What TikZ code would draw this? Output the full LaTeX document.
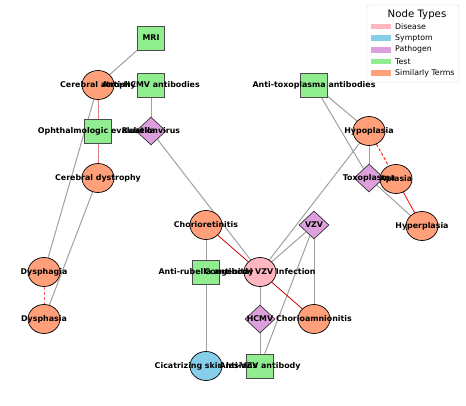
\documentclass[tikz,border=0pt]{standalone}
\usepackage{fontspec}
\setmainfont{DejaVu Sans}
\usepackage{xcolor}
\usepackage{tikz}
\usetikzlibrary{shapes.geometric}
\pgfdeclarelayer{bg}
\pgfsetlayers{bg,main}
\definecolor{disease}{HTML}{FFB6C1}
\definecolor{symptom}{HTML}{87CEEB}
\definecolor{pathogen}{HTML}{DDA0DD}
\definecolor{testc}{HTML}{90EE90}
\definecolor{simterm}{HTML}{FFA07A}
\definecolor{edgegray}{HTML}{A0A0A0}

\begin{document}
\begin{tikzpicture}[x=1pt,y=-1pt,>=latex]
\tikzstyle{ell}=[ellipse,draw=black,line width=0.7pt,minimum width=32pt,minimum height=29pt,inner sep=0pt]
\tikzstyle{sq}=[rectangle,draw=black!70,line width=0.7pt,fill=testc,minimum width=27pt,minimum height=24pt,inner sep=0pt]
\tikzstyle{dia}=[diamond,draw=black!80,line width=0.7pt,fill=pathogen,minimum width=30pt,minimum height=28pt,inner sep=0pt]
\tikzstyle{lbl}=[font=\bfseries\fontsize{7.9}{9}\selectfont,inner sep=0pt]
\tikzstyle{link}=[draw=edgegray,line width=1pt]
\tikzstyle{simlink}=[draw=red,line width=0.8pt,dashed,dash pattern=on 3pt off 2pt]
\useasboundingbox (0,0) rectangle (466,405);

% nodes
\node[sq] (mri) at (151,38) {};
\node[ell,fill=simterm] (catr) at (98,85) {};
\node[sq] (ahcmv) at (151,85) {};
\node[sq] (ophth) at (98,131) {};
\node[dia] (rub) at (151,131) {};
\node[ell,fill=simterm] (cdys) at (98,178) {};
\node[sq] (atoxo) at (314,85) {};
\node[ell,fill=simterm] (hypo) at (369,131) {};
\node[dia] (toxo) at (369,178) {};
\node[ell,fill=simterm] (apl) at (396,179) {};
\node[ell,fill=simterm] (hyper) at (422,226) {};
\node[ell,fill=simterm] (chret) at (206,225) {};
\node[dia] (vzv) at (314,225) {};
\node[ell,fill=disease] (cvzv) at (260,272) {};
\node[sq] (arub) at (206,272) {};
\node[ell,fill=simterm] (dysg) at (44,272) {};
\node[ell,fill=simterm] (dyss) at (44,319) {};
\node[dia] (hcmv) at (260,319) {};
\node[ell,fill=simterm] (cham) at (314,319) {};
\node[ell,fill=symptom] (cicat) at (206,366) {};
\node[sq] (avzv) at (260,366) {};

% labels on top
\node[lbl] (mri-t) at (mri) {MRI};
\node[lbl] (catr-t) at (catr) {Cerebral atrophy};
\node[lbl] (ahcmv-t) at (ahcmv) {Anti-HCMV antibodies};
\node[lbl] (ophth-t) at (ophth) {Ophthalmologic evaluation};
\node[lbl] (rub-t) at (rub) {Rubella virus};
\node[lbl] (cdys-t) at (cdys) {Cerebral dystrophy};
\node[lbl] (atoxo-t) at (atoxo) {Anti-toxoplasma antibodies};
\node[lbl] (hypo-t) at (hypo) {Hypoplasia};
\node[lbl] (toxo-t) at (toxo) {Toxoplasma};
\node[lbl] (apl-t) at (apl) {Aplasia};
\node[lbl] (hyper-t) at (hyper) {Hyperplasia};
\node[lbl] (chret-t) at (chret) {Chorioretinitis};
\node[lbl] (vzv-t) at (vzv) {VZV};
\node[lbl] (arub-t) at (arub) {Anti-rubella antibody};
\node[lbl] (cvzv-t) at (cvzv) {Congenital VZV Infection};
\node[lbl] (dysg-t) at (dysg) {Dysphagia};
\node[lbl] (dyss-t) at (dyss) {Dysphasia};
\node[lbl] (hcmv-t) at (hcmv) {HCMV};
\node[lbl] (cham-t) at (cham) {Chorioamnionitis};
\node[lbl] (cicat-t) at (cicat) {Cicatrizing skin lesions};
\node[lbl] (avzv-t) at (avzv) {Anti-VZV antibody};

% edges
\begin{pgfonlayer}{bg}
\draw[link] (mri) -- (catr);
\draw[link] (ahcmv) -- (rub);
\draw[link] (catr) -- (ophth);
\draw[link] (ophth) -- (cdys);
\draw[link] (catr) -- (dysg);
\draw[link] (cdys) -- (dyss);
\draw[link] (rub) -- (cvzv);
\draw[link] (chret) -- (arub);
\draw[link] (arub) -- (cicat);
\draw[link] (cvzv) -- (hcmv);
\draw[link] (hcmv) -- (avzv);
\draw[link] (vzv) -- (cvzv);
\draw[link] (vzv) -- (avzv);
\draw[link] (vzv) -- (cham);
\draw[link] (hypo) -- (cvzv);
\draw[link] (atoxo) -- (hypo);
\draw[link] (atoxo) -- (toxo);
\draw[link] (hypo) -- (toxo);
\draw[link] (toxo) -- (hyper);
\draw[simlink,red!60] (catr) -- (cdys);
\draw[simlink,red!60] (dysg) -- (dyss);
\draw[simlink] (hypo) -- (apl);
\draw[draw=red,line width=0.8pt] (apl) -- (hyper);
\draw[draw=red!80!black,line width=0.8pt] (chret) -- (cvzv);
\draw[draw=red!80!black,line width=0.8pt] (cvzv) -- (cham);
\end{pgfonlayer}

% legend
\node[draw=black!15,fill=white,rounded corners=2pt,minimum width=92pt,minimum height=77pt,inner sep=0pt] (leg) at (413,43.5) {};
\node[font=\fontsize{10.2}{11}\selectfont,inner sep=0pt] (leg-t) at (417,15) {Node Types};
\foreach \c/\t [count=\i] in {disease/Disease,symptom/Symptom,pathogen/Pathogen,testc/Test,simterm/Similarly Terms}{
  \node[fill=\c,minimum width=20pt,minimum height=5.6pt,inner sep=0pt] (leg-p\i) at (381,{15+11.6*\i}) {};
  \node[anchor=west,font=\fontsize{7.8}{9}\selectfont,inner sep=0pt] (leg-e\i) at (395,{15+11.6*\i}) {\t};
}
\end{tikzpicture}
\end{document}
